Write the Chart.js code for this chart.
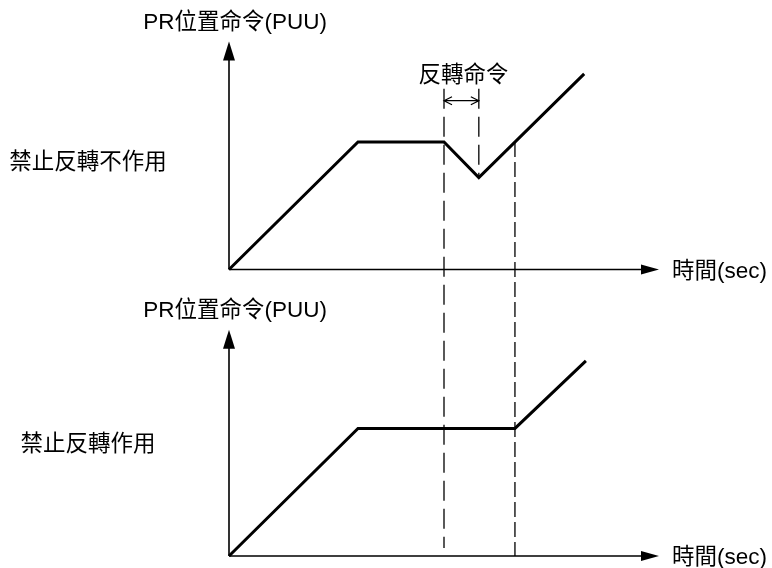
<!DOCTYPE html>
<html>
<head>
<meta charset="utf-8">
<script src="https://cdn.jsdelivr.net/npm/chart.js@4"></script>
<style>
  html, body { margin: 0; padding: 0; background: #fff; }
  #wrap { width: 772px; height: 568px; position: relative; }
</style>
</head>
<body>
<div id="wrap"><canvas id="chart"></canvas></div>
<script>
// 時間 (sec) 與 PR 位置命令 (PUU) 讀值
const timeTop = [0, 3, 5, 5.81, 8.26];
const posTop = [0, 3, 3, 2.16, 4.6];
const timeBottom = [0, 3, 6.65, 8.3];
const posBottom = [0, 3, 3, 4.59];

// 虛線：時間, 起點 [軸, 值], 終點 [軸, 值]
const guideTimes = [5, 5.81, 6.65];
const guideFrom = [['yTop', 4.25], ['yTop', 4.25], ['yTop', 3]];
const guideTo = [['yBot', 0.19], ['yTop', 2.16], ['yBot', 0]];
const guideDash = [[20, 8], [20, 8], [15, 5]];

const yAxisTitle = 'PR位置命令(PUU)';
const xAxisTitle = '時間(sec)';
const panelLabels = ['禁止反轉不作用', '禁止反轉作用'];
const panelLabelPos = [2.5, 2.61];
const axisTips = [5.36, 5.32];
const markerLabel = '反轉命令';

const FONT = '22.5px "Liberation Sans", Arial, "Noto Sans CJK TC", sans-serif';

const toPoints = (xs, ys) => xs.map((x, i) => ({ x: x, y: ys[i] }));

function arrowHead(ctx, tipX, tipY, dx, dy, len, half) {
  // filled triangle pointing along (dx, dy)
  const bx = tipX - dx * len, by = tipY - dy * len;
  ctx.beginPath();
  ctx.moveTo(tipX, tipY);
  ctx.lineTo(bx - dy * half, by + dx * half);
  ctx.lineTo(bx + dy * half, by - dx * half);
  ctx.closePath();
  ctx.fill();
}

const diagram = {
  id: 'diagram',
  beforeDatasetsDraw(chart) {
    const { ctx } = chart;
    const x = chart.scales.x;
    const panels = [chart.scales.yTop, chart.scales.yBot];
    const x0 = x.getPixelForValue(0);
    const xEnd = x.getPixelForValue(x.max);
    ctx.save();
    ctx.fillStyle = '#000';
    ctx.strokeStyle = '#000';

    // 軸與箭頭
    panels.forEach((y, i) => {
      const y0 = y.getPixelForValue(0);
      const yTip = y.getPixelForValue(axisTips[i]);
      ctx.lineWidth = 1.6;
      ctx.beginPath();
      ctx.moveTo(x0, y0);
      ctx.lineTo(x0, yTip + 12);
      ctx.moveTo(x0, y0);
      ctx.lineTo(xEnd - 10, y0);
      ctx.stroke();
      arrowHead(ctx, x0, yTip, 0, -1, 19, 6);
      arrowHead(ctx, xEnd, y0, 1, 0, 18, 5);

      ctx.font = FONT;
      ctx.textBaseline = 'middle';
      ctx.textAlign = 'center';
      ctx.fillText(yAxisTitle, x0 + 6, yTip - 19);
      ctx.textAlign = 'left';
      ctx.fillText(xAxisTitle, xEnd + 13, y0 + 2);
      ctx.textAlign = 'center';
      ctx.fillText(panelLabels[i], 88, y.getPixelForValue(panelLabelPos[i]));
    });

    // 虛線
    ctx.lineWidth = 1.3;
    guideTimes.forEach((t, i) => {
      const px = x.getPixelForValue(t);
      ctx.setLineDash(guideDash[i]);
      ctx.beginPath();
      ctx.moveTo(px, chart.scales[guideFrom[i][0]].getPixelForValue(guideFrom[i][1]));
      ctx.lineTo(px, chart.scales[guideTo[i][0]].getPixelForValue(guideTo[i][1]));
      ctx.stroke();
    });
    ctx.setLineDash([]);

    // 反轉命令 雙向箭頭
    const yTop = chart.scales.yTop;
    const ax = x.getPixelForValue(guideTimes[0]);
    const bx = x.getPixelForValue(guideTimes[1]);
    const ay = yTop.getPixelForValue(3.97);
    ctx.lineWidth = 1.2;
    ctx.beginPath();
    ctx.moveTo(ax, ay);
    ctx.lineTo(bx, ay);
    ctx.moveTo(ax + 8, ay - 4);
    ctx.lineTo(ax, ay);
    ctx.lineTo(ax + 8, ay + 4);
    ctx.moveTo(bx - 8, ay - 4);
    ctx.lineTo(bx, ay);
    ctx.lineTo(bx - 8, ay + 4);
    ctx.stroke();
    ctx.font = FONT;
    ctx.textAlign = 'center';
    ctx.textBaseline = 'middle';
    ctx.fillText(markerLabel, (ax + bx) / 2 + 2, yTop.getPixelForValue(4.56));
    ctx.restore();
  }
};

new Chart(document.getElementById('chart'), {
  type: 'scatter',
  data: {
    datasets: [
      {
        label: panelLabels[0],
        data: toPoints(timeTop, posTop),
        yAxisID: 'yTop',
        showLine: true,
        borderColor: '#000',
        borderWidth: 3,
        pointRadius: 0,
        tension: 0,
        clip: false,
      },
      {
        label: panelLabels[1],
        data: toPoints(timeBottom, posBottom),
        yAxisID: 'yBot',
        showLine: true,
        borderColor: '#000',
        borderWidth: 3,
        pointRadius: 0,
        tension: 0,
        clip: false,
      },
    ],
  },
  options: {
    responsive: true,
    maintainAspectRatio: false,
    animation: false,
    events: [],
    layout: { padding: { left: 229, right: 113, top: 42, bottom: 12 } },
    plugins: { legend: { display: false }, tooltip: { enabled: false } },
    scales: {
      x: { type: 'linear', min: 0, max: 10, display: false },
      // stacked left axes: the one declared last is placed on top
      yBot: { type: 'linear', position: 'left', stack: 'panels', stackWeight: 5.94, min: 0, max: 5.94, display: false },
      yTop: { type: 'linear', position: 'left', stack: 'panels', stackWeight: 6.15, min: -0.8, max: 5.35, display: false },
    },
  },
  plugins: [diagram],
});
</script>
</body>
</html>
